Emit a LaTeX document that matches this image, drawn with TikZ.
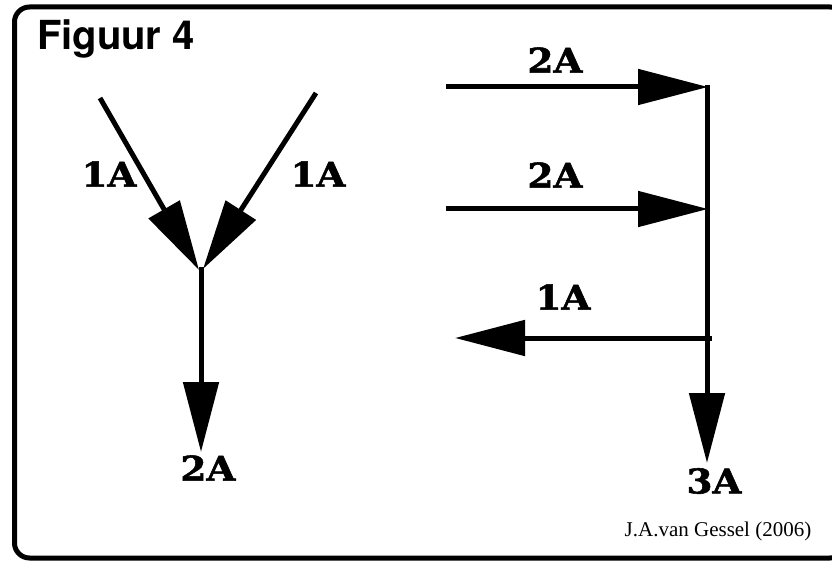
\documentclass[tikz,border=0pt]{standalone}
\usepackage{fontspec}
\setmainfont{DejaVu Serif}
\newfontfamily\titlefont{TeX Gyre Heros}
\newfontfamily\labfont[BoldFeatures={FakeBold=1.6,FakeStretch=1.1}]{DejaVu Serif}
\newfontfamily\credfont{Liberation Serif}
\usetikzlibrary{arrows.meta}
\begin{document}
\begin{tikzpicture}[x=1pt,y=-1pt,
  wire/.style={line width=5pt},
  flow/.style={wire,-{Triangle[length=70pt,width=35pt]}},
  lab/.style={inner sep=0pt,font=\fontsize{34}{36}\labfont\bfseries},
  ]
\useasboundingbox (0,0) rectangle (832,561);
\draw[line width=5pt,rounded corners=15pt] (14.5,7) rectangle (845,558);
\node[inner sep=0pt,font=\fontsize{40}{42}\titlefont\bfseries] (title) at (116,39) {Figuur 4};
\node[inner sep=0pt,font=\fontsize{21}{23}\credfont] (credit) at (718,531) {J.A.van Gessel (2006)};
% left junction
\coordinate (la) at (100,98);
\coordinate (ra) at (316,93);
\coordinate (jl) at (199,270);
\coordinate (jr) at (203,269);
\coordinate (jt) at (201,267);
\coordinate (bot) at (201,452);
\draw[flow] (la) -- (jl);
\draw[flow] (ra) -- (jr);
\draw[flow] (jt) -- (bot);
\node[lab] (l1) at (109,174) {1A};
\node[lab] (l2) at (318,174) {1A};
\node[lab] (l3) at (208,468) {2A};
% right part
\coordinate (a1) at (446,87);
\coordinate (b1) at (708,87);
\coordinate (a2) at (446,209);
\coordinate (b2) at (708,209);
\coordinate (a3) at (712,338);
\coordinate (b3) at (455,338);
\coordinate (vt) at (707,85);
\coordinate (vb) at (707,463);
\draw[flow] (vt) -- (vb);
\draw[flow] (a1) -- (b1);
\draw[flow] (a2) -- (b2);
\draw[flow] (a3) -- (b3);
\node[lab] (r1) at (555,60) {2A};
\node[lab] (r2) at (555,175) {2A};
\node[lab] (r3) at (563,297) {1A};
\node[lab] (r4) at (714,481) {3A};
\end{tikzpicture}
\end{document}
